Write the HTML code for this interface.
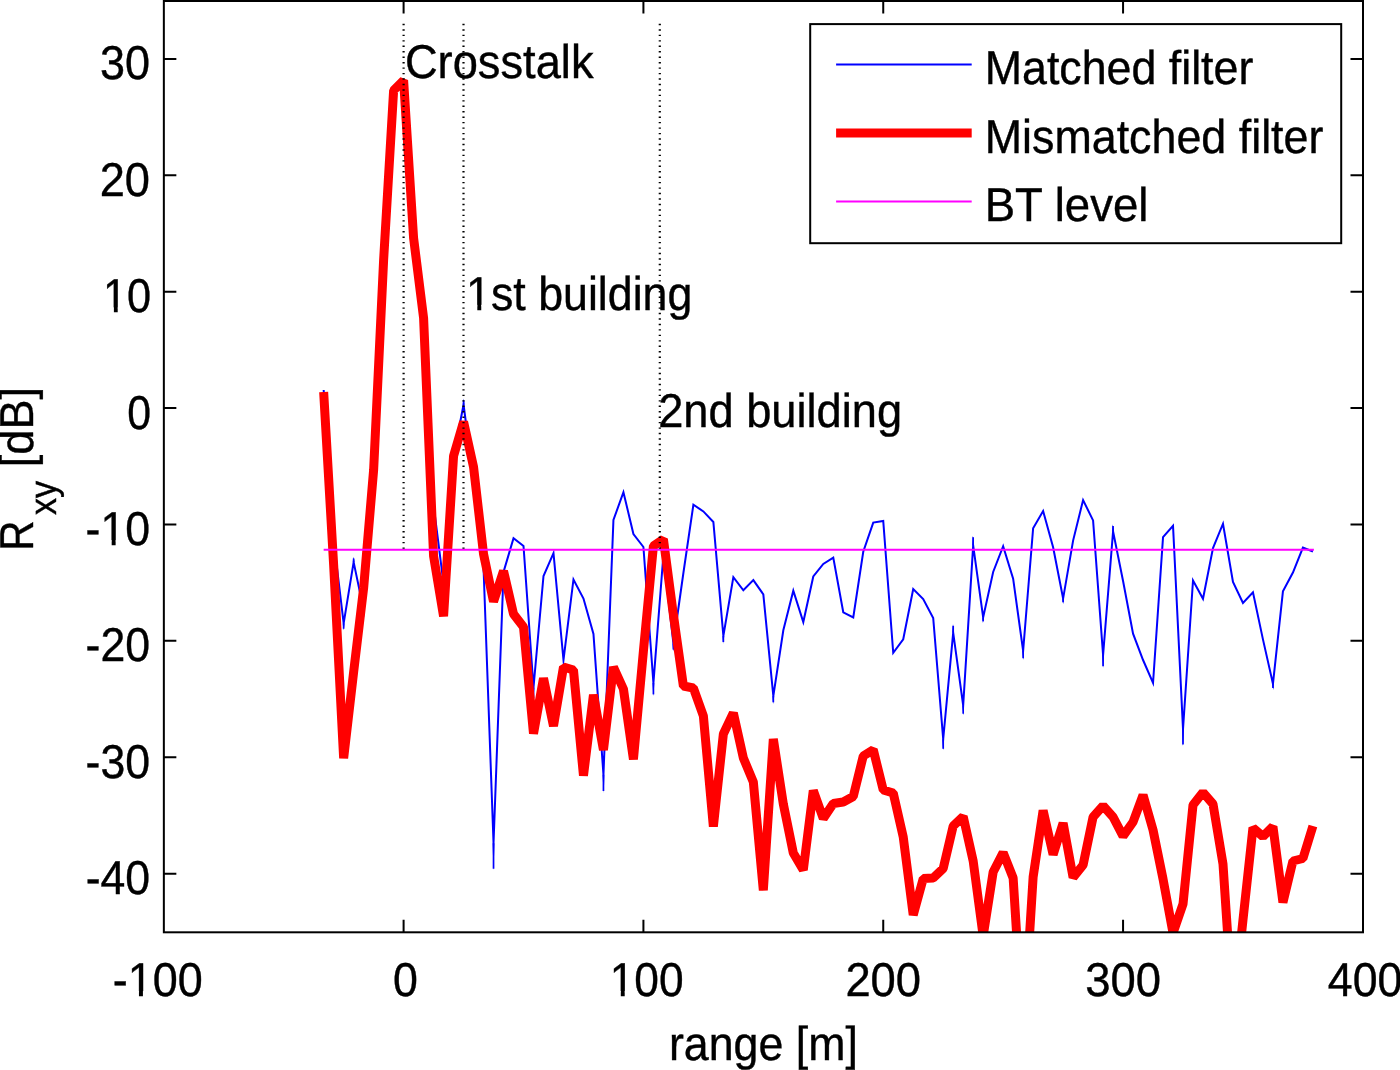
<!DOCTYPE html>
<html><head><meta charset="utf-8"><title>Rxy vs range</title>
<style>html,body{margin:0;padding:0;background:#fff;}svg{display:block;will-change:transform;}text{text-rendering:geometricPrecision;}</style></head><body>
<svg width="1400" height="1070" viewBox="0 0 1400 1070">
<rect x="0" y="0" width="1400" height="1070" fill="#fff"/>
<defs><clipPath id="ax"><rect x="163.85" y="1.0" width="1199.15" height="931.3"/></clipPath></defs>
<g clip-path="url(#ax)" fill="none">
<polyline points="323.66,390.00 333.65,540.00 343.65,623.36 353.64,562.17 363.63,610.00 373.62,470.00 383.62,260.00 393.61,90.40 403.60,80.40 413.59,238.00 423.59,318.00 433.58,505.00 443.57,584.00 453.56,456.00 463.56,404.79 473.55,480.00 483.54,568.00 493.53,843.24 503.53,572.00 513.52,538.18 523.51,546.00 533.50,687.57 543.50,576.00 553.49,553.19 563.48,660.00 573.47,579.45 583.47,598.50 593.46,634.00 603.45,774.72 613.44,520.00 623.43,492.20 633.43,534.00 643.42,547.00 653.41,682.97 663.40,555.00 673.40,643.48 683.39,573.00 693.38,504.77 703.38,511.40 713.37,522.00 723.36,635.96 733.35,577.12 743.35,590.27 753.34,580.16 763.33,594.40 773.32,696.04 783.32,630.30 793.31,590.65 803.30,622.04 813.29,576.50 823.29,564.00 833.28,557.69 843.27,612.30 853.26,617.39 863.25,551.80 873.25,522.60 883.24,521.00 893.23,652.74 903.23,639.30 913.22,589.11 923.21,599.00 933.20,618.00 943.20,739.21 953.19,632.71 963.18,705.43 973.17,545.41 983.16,617.43 993.16,572.00 1003.15,546.25 1013.14,578.70 1023.13,650.94 1033.13,528.20 1043.12,511.08 1053.11,547.30 1063.11,598.56 1073.10,540.60 1083.09,500.12 1093.08,520.40 1103.08,655.06 1113.07,531.38 1123.06,581.00 1133.05,633.70 1143.05,660.00 1153.04,682.81 1163.03,537.20 1173.02,525.77 1183.01,728.99 1193.01,580.47 1203.00,598.76 1212.99,548.00 1222.99,523.72 1232.98,582.00 1242.97,603.02 1252.96,592.36 1262.95,639.40 1272.95,683.79 1282.94,591.30 1292.93,572.50 1302.92,547.61 1312.92,551.50" stroke="#0000ff" stroke-width="2" stroke-linejoin="miter" stroke-miterlimit="100"/>
<line x1="343.65" y1="623.36" x2="343.65" y2="628.70" stroke="#0000ff" stroke-width="1.7"/>
<line x1="493.53" y1="843.24" x2="493.53" y2="868.80" stroke="#0000ff" stroke-width="1.7"/>
<line x1="533.50" y1="687.57" x2="533.50" y2="698.30" stroke="#0000ff" stroke-width="1.7"/>
<line x1="603.45" y1="774.72" x2="603.45" y2="791.10" stroke="#0000ff" stroke-width="1.7"/>
<line x1="653.41" y1="682.97" x2="653.41" y2="694.40" stroke="#0000ff" stroke-width="1.7"/>
<line x1="673.40" y1="643.48" x2="673.40" y2="649.60" stroke="#0000ff" stroke-width="1.7"/>
<line x1="723.36" y1="635.96" x2="723.36" y2="642.00" stroke="#0000ff" stroke-width="1.7"/>
<line x1="773.32" y1="696.04" x2="773.32" y2="702.30" stroke="#0000ff" stroke-width="1.7"/>
<line x1="943.20" y1="739.21" x2="943.20" y2="748.80" stroke="#0000ff" stroke-width="1.7"/>
<line x1="963.18" y1="705.43" x2="963.18" y2="713.70" stroke="#0000ff" stroke-width="1.7"/>
<line x1="983.16" y1="617.43" x2="983.16" y2="621.30" stroke="#0000ff" stroke-width="1.7"/>
<line x1="1023.13" y1="650.94" x2="1023.13" y2="658.30" stroke="#0000ff" stroke-width="1.7"/>
<line x1="1063.11" y1="598.56" x2="1063.11" y2="602.30" stroke="#0000ff" stroke-width="1.7"/>
<line x1="1103.08" y1="655.06" x2="1103.08" y2="666.20" stroke="#0000ff" stroke-width="1.7"/>
<line x1="1183.01" y1="728.99" x2="1183.01" y2="744.40" stroke="#0000ff" stroke-width="1.7"/>
<line x1="1272.95" y1="683.79" x2="1272.95" y2="688.10" stroke="#0000ff" stroke-width="1.7"/>
<line x1="353.64" y1="562.17" x2="353.64" y2="558.50" stroke="#0000ff" stroke-width="1.7"/>
<line x1="463.56" y1="404.79" x2="463.56" y2="400.40" stroke="#0000ff" stroke-width="1.7"/>
<line x1="953.19" y1="632.71" x2="953.19" y2="625.80" stroke="#0000ff" stroke-width="1.7"/>
<line x1="973.17" y1="545.41" x2="973.17" y2="537.20" stroke="#0000ff" stroke-width="1.7"/>
<line x1="1113.07" y1="531.38" x2="1113.07" y2="526.00" stroke="#0000ff" stroke-width="1.7"/>
<polyline points="323.66,392.00 333.65,565.00 343.65,758.30 353.64,672.00 363.63,588.00 373.62,470.00 383.62,260.00 393.61,90.40 403.60,80.40 413.59,238.00 423.59,318.00 433.58,556.00 443.57,616.30 453.56,456.00 463.56,421.70 473.55,467.00 483.54,554.00 493.53,601.60 503.53,571.00 513.52,614.00 523.51,627.00 533.50,733.60 543.50,678.20 553.49,726.10 563.48,667.00 573.47,670.00 583.47,775.70 593.46,694.80 603.45,750.00 613.44,667.00 623.43,689.00 633.43,759.40 643.42,651.00 653.41,546.00 663.40,539.20 673.40,615.00 683.39,686.00 693.38,688.00 703.38,716.00 713.37,826.60 723.36,734.00 733.35,712.90 743.35,758.00 753.34,782.00 763.33,890.30 773.32,739.00 783.32,804.00 793.31,853.00 803.30,870.00 813.29,790.50 823.29,818.50 833.28,803.50 843.27,802.00 853.26,796.50 863.25,756.00 873.25,749.70 883.24,790.00 893.23,793.00 903.23,837.00 913.22,915.00 923.21,878.60 933.20,878.00 943.20,868.50 953.19,826.00 963.18,816.50 973.17,861.00 983.16,936.00 993.16,872.00 1003.15,852.60 1013.14,878.00 1023.13,1038.00 1033.13,877.00 1043.12,810.40 1053.11,854.60 1063.11,823.00 1073.10,877.50 1083.09,865.00 1093.08,817.00 1103.08,805.80 1113.07,817.00 1123.06,836.20 1133.05,822.00 1143.05,795.10 1153.04,830.00 1163.03,879.00 1173.02,933.00 1183.01,904.00 1193.01,805.00 1203.00,792.30 1212.99,804.00 1222.99,864.00 1232.98,1015.00 1242.97,920.00 1252.96,827.80 1262.95,836.50 1272.95,826.50 1282.94,902.40 1292.93,861.00 1302.92,858.50 1312.92,826.00" stroke="#ff0000" stroke-width="9" stroke-linejoin="bevel"/>
<line x1="323.66" y1="549.8" x2="1313.92" y2="549.8" stroke="#ff00ff" stroke-width="2"/>
<line x1="403.6" y1="23.8" x2="403.6" y2="549" stroke="#000" stroke-width="2.2" stroke-dasharray="1.4 4.054"/>
<line x1="463.5" y1="23.8" x2="463.5" y2="549" stroke="#000" stroke-width="2.2" stroke-dasharray="1.4 4.054"/>
<line x1="659.8" y1="23.8" x2="659.8" y2="549" stroke="#000" stroke-width="2.2" stroke-dasharray="1.4 4.054"/>
</g>
<rect x="163.85" y="1.0" width="1199.15" height="931.3" fill="none" stroke="#000" stroke-width="2"/>
<path d="M163.85,58.90h12.5M1363.0,58.90h-12.5M163.85,175.29h12.5M1363.0,175.29h-12.5M163.85,291.68h12.5M1363.0,291.68h-12.5M163.85,408.07h12.5M1363.0,408.07h-12.5M163.85,524.46h12.5M1363.0,524.46h-12.5M163.85,640.85h12.5M1363.0,640.85h-12.5M163.85,757.24h12.5M1363.0,757.24h-12.5M163.85,873.63h12.5M1363.0,873.63h-12.5M403.60,932.3v-12.5M403.60,1.0v12.5M643.42,932.3v-12.5M643.42,1.0v12.5M883.24,932.3v-12.5M883.24,1.0v12.5M1123.06,932.3v-12.5M1123.06,1.0v12.5" stroke="#000" stroke-width="2" fill="none"/>
<rect x="810.2" y="24.1" width="531" height="219.1" fill="#fff" stroke="#000" stroke-width="2"/>
<line x1="836.1" y1="64.4" x2="971.7" y2="64.4" stroke="#0000ff" stroke-width="2"/>
<line x1="836.1" y1="133" x2="971.7" y2="133" stroke="#ff0000" stroke-width="8.8"/>
<line x1="836.1" y1="201.6" x2="971.7" y2="201.6" stroke="#ff00ff" stroke-width="2"/>
<g transform="translate(99.88,79.40) scale(0.9474,1)"><text x="0" y="0" font-family="'Liberation Sans', sans-serif" font-size="47.5" fill="#000" stroke="#000" stroke-width="0.4">30</text></g>
<g transform="translate(99.64,195.79) scale(0.9519,1)"><text x="0" y="0" font-family="'Liberation Sans', sans-serif" font-size="47.5" fill="#000" stroke="#000" stroke-width="0.4">20</text></g>
<g transform="translate(103.00,312.18) scale(0.9109,1)"><text x="0" y="0" font-family="'Liberation Sans', sans-serif" font-size="47.5" fill="#000" stroke="#000" stroke-width="0.4">10</text><rect x="2.12" y="-4.75" width="9.83" height="6.75" fill="#fff"/><rect x="16.14" y="-4.75" width="9.46" height="6.75" fill="#fff"/></g>
<g transform="translate(127.35,428.57) scale(0.9005,1)"><text x="0" y="0" font-family="'Liberation Sans', sans-serif" font-size="47.5" fill="#000" stroke="#000" stroke-width="0.4">0</text></g>
<g transform="translate(85.59,544.96) scale(0.9396,1)"><text x="0" y="0" font-family="'Liberation Sans', sans-serif" font-size="47.5" fill="#000" stroke="#000" stroke-width="0.4">-10</text><rect x="17.93" y="-4.75" width="9.83" height="6.75" fill="#fff"/><rect x="31.96" y="-4.75" width="9.46" height="6.75" fill="#fff"/></g>
<g transform="translate(85.59,661.35) scale(0.9396,1)"><text x="0" y="0" font-family="'Liberation Sans', sans-serif" font-size="47.5" fill="#000" stroke="#000" stroke-width="0.4">-20</text></g>
<g transform="translate(85.59,777.74) scale(0.9396,1)"><text x="0" y="0" font-family="'Liberation Sans', sans-serif" font-size="47.5" fill="#000" stroke="#000" stroke-width="0.4">-30</text></g>
<g transform="translate(85.69,894.13) scale(0.9380,1)"><text x="0" y="0" font-family="'Liberation Sans', sans-serif" font-size="47.5" fill="#000" stroke="#000" stroke-width="0.4">-40</text></g>
<g transform="translate(112.67,995.80) scale(0.9466,1)"><text x="0" y="0" font-family="'Liberation Sans', sans-serif" font-size="47.5" fill="#000" stroke="#000" stroke-width="0.4">-100</text><rect x="17.93" y="-4.75" width="9.83" height="6.75" fill="#fff"/><rect x="31.96" y="-4.75" width="9.46" height="6.75" fill="#fff"/></g>
<g transform="translate(392.88,995.80) scale(0.9416,1)"><text x="0" y="0" font-family="'Liberation Sans', sans-serif" font-size="47.5" fill="#000" stroke="#000" stroke-width="0.4">0</text></g>
<g transform="translate(609.65,995.80) scale(0.9326,1)"><text x="0" y="0" font-family="'Liberation Sans', sans-serif" font-size="47.5" fill="#000" stroke="#000" stroke-width="0.4">100</text><rect x="2.12" y="-4.75" width="9.83" height="6.75" fill="#fff"/><rect x="16.14" y="-4.75" width="9.46" height="6.75" fill="#fff"/></g>
<g transform="translate(845.38,995.80) scale(0.9554,1)"><text x="0" y="0" font-family="'Liberation Sans', sans-serif" font-size="47.5" fill="#000" stroke="#000" stroke-width="0.4">200</text></g>
<g transform="translate(1085.36,995.80) scale(0.9557,1)"><text x="0" y="0" font-family="'Liberation Sans', sans-serif" font-size="47.5" fill="#000" stroke="#000" stroke-width="0.4">300</text></g>
<g transform="translate(1327.87,995.80) scale(0.9395,1)"><text x="0" y="0" font-family="'Liberation Sans', sans-serif" font-size="47.5" fill="#000" stroke="#000" stroke-width="0.4">400</text></g>
<g transform="translate(668.88,1060.00) scale(0.9418,1)"><text x="0" y="0" font-family="'Liberation Sans', sans-serif" font-size="47.5" fill="#000" stroke="#000" stroke-width="0.4">range [m]</text></g>
<g transform="translate(404.93,77.90) scale(0.9527,1)"><text x="0" y="0" font-family="'Liberation Sans', sans-serif" font-size="47.5" fill="#000" stroke="#000" stroke-width="0.4">Crosstalk</text></g>
<g transform="translate(466.06,309.60) scale(0.9415,1)"><text x="0" y="0" font-family="'Liberation Sans', sans-serif" font-size="47.5" fill="#000" stroke="#000" stroke-width="0.4">1st building</text><rect x="2.12" y="-4.75" width="9.83" height="6.75" fill="#fff"/><rect x="16.14" y="-4.75" width="9.46" height="6.75" fill="#fff"/></g>
<g transform="translate(658.19,426.70) scale(0.9519,1)"><text x="0" y="0" font-family="'Liberation Sans', sans-serif" font-size="47.5" fill="#000" stroke="#000" stroke-width="0.4">2nd building</text></g>
<g transform="translate(984.72,83.60) scale(0.9420,1)"><text x="0" y="0" font-family="'Liberation Sans', sans-serif" font-size="47.5" fill="#000" stroke="#000" stroke-width="0.4">Matched filter</text></g>
<g transform="translate(984.71,152.70) scale(0.9434,1)"><text x="0" y="0" font-family="'Liberation Sans', sans-serif" font-size="47.5" fill="#000" stroke="#000" stroke-width="0.4">Mismatched filter</text></g>
<g transform="translate(984.65,221.10) scale(0.9590,1)"><text x="0" y="0" font-family="'Liberation Sans', sans-serif" font-size="47.5" fill="#000" stroke="#000" stroke-width="0.4">BT level</text></g>
<g transform="translate(33.00,0) rotate(-90) translate(-550.68,0) scale(0.8866,1)"><text x="0" y="0" font-family="'Liberation Sans', sans-serif" font-size="47.5" fill="#000" stroke="#000" stroke-width="0.4">R</text></g>
<g transform="translate(55.50,0) rotate(-90) translate(-515.07,0) scale(0.8952,1)"><text x="0" y="0" font-family="'Liberation Sans', sans-serif" font-size="38" fill="#000" stroke="#000" stroke-width="0.4">xy</text></g>
<g transform="translate(33.00,0) rotate(-90) translate(-467.15,0) scale(0.9480,1)"><text x="0" y="0" font-family="'Liberation Sans', sans-serif" font-size="47.5" fill="#000" stroke="#000" stroke-width="0.4">[dB]</text></g>
</svg></body></html>
